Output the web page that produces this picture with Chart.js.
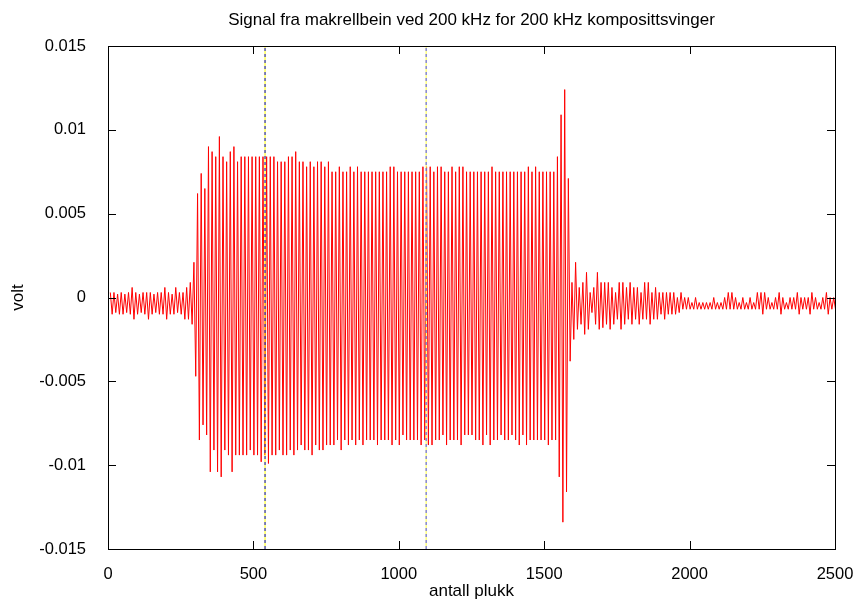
<!DOCTYPE html>
<html>
<head>
<meta charset="utf-8">
<script src="https://cdn.jsdelivr.net/npm/chart.js@4.4.1/dist/chart.umd.min.js"></script>
<style>
  html, body { margin: 0; padding: 0; background: #fff; }
  #plot { display: block; }
</style>
</head>
<body>
<canvas id="plot" width="856" height="600"></canvas>
<script>
// Signal fra makrellbein - one peak and one trough per cycle
const samplesPerCycle = 12.5;
const firstPeakAt = 8;

const peaks = [
    // 0-22 noise before the burst
    0.0003, 0.0003, 0.0002, 0.0003, 0.0002, 0.0003, 0.0006, 0.0003, 0.0002, 0.0003,
    0.0003, 0.0003, 0.0002, 0.0003, 0.0003, 0.0006, 0.0003, 0.0002, 0.0006, 0.0003,
    0.0003, 0.0006, 0.0009,
    // 23-35 onset
    0.0021, 0.0062, 0.0074, 0.0065, 0.0090, 0.0087, 0.0084, 0.0096, 0.0084, 0.0081,
    0.0087, 0.0090, 0.0081,
    // 36-122 steady part
    0.0084, 0.0084, 0.0084, 0.0084, 0.0084, 0.0084, 0.0084, 0.0084, 0.0084, 0.0084,
    0.0081, 0.0081, 0.0081, 0.0084, 0.0084, 0.0087, 0.0081, 0.0081, 0.0078, 0.0081,
    0.0078, 0.0081, 0.0081, 0.0078, 0.0081, 0.0075, 0.0075, 0.0078, 0.0075, 0.0075,
    0.0078, 0.0075, 0.0078, 0.0075, 0.0075, 0.0075, 0.0075, 0.0075, 0.0075, 0.0075,
    0.0075, 0.0078, 0.0078, 0.0075, 0.0075, 0.0075, 0.0075, 0.0075, 0.0075, 0.0075,
    0.0078, 0.0078, 0.0078, 0.0075, 0.0078, 0.0078, 0.0075, 0.0075, 0.0078, 0.0075,
    0.0078, 0.0078, 0.0075, 0.0075, 0.0075, 0.0075, 0.0075, 0.0075, 0.0075, 0.0078,
    0.0075, 0.0075, 0.0075, 0.0075, 0.0075, 0.0075, 0.0075, 0.0075, 0.0075, 0.0078,
    0.0075, 0.0078, 0.0075, 0.0075, 0.0075, 0.0075, 0.0075,
    // 123-126 end spike
    0.0084, 0.0109, 0.0124, 0.0071,
    // 127-158 ringing
    0.0009, 0.0021, 0.0006, 0.0009, 0.0015, 0.0003, 0.0006, 0.0015, 0.0009, 0.0009,
    0.0009, 0.0006, 0.0003, 0.0009, 0.0009, 0.0006, 0.0009, 0.0006, 0.0006, 0.0003,
    0.0009, 0.0009, 0.0003, 0.0006, 0.0003, 0.0003, 0.0003, 0.0003, 0.0003, 0.0000,
    0.0003, 0.0000,
    // 159-199 noise after
    0.0000, -0.0003, 0.0000, -0.0003, -0.0003, -0.0003, -0.0003, 0.0000, -0.0003, -0.0003,
    0.0000, 0.0003, 0.0003, 0.0000, -0.0003, 0.0000, -0.0003, 0.0000, -0.0003, 0.0003,
    0.0003, 0.0003, 0.0000, -0.0003, 0.0000, 0.0003, 0.0000, -0.0003, 0.0000, 0.0000,
    0.0003, 0.0000, 0.0000, 0.0000, 0.0003, 0.0000, -0.0003, 0.0000, 0.0003, 0.0000,
    0.0000
];

const troughs = [
    -0.0010, -0.0009, -0.0010, -0.0010, -0.0009, -0.0010, -0.0013, -0.0010, -0.0009, -0.0010,
    -0.0013, -0.0010, -0.0009, -0.0010, -0.0010, -0.0013, -0.0010, -0.0010, -0.0009, -0.0010,
    -0.0013, -0.0013, -0.0016,
    -0.0047, -0.0085, -0.0076, -0.0082, -0.0104, -0.0091, -0.0104, -0.0107, -0.0091, -0.0094,
    -0.0104, -0.0094, -0.0094,
    -0.0094, -0.0094, -0.0091, -0.0094, -0.0094, -0.0098, -0.0094, -0.0099, -0.0094, -0.0094,
    -0.0091, -0.0094, -0.0094, -0.0091, -0.0094, -0.0091, -0.0088, -0.0091, -0.0091, -0.0094,
    -0.0088, -0.0091, -0.0091, -0.0088, -0.0088, -0.0088, -0.0085, -0.0091, -0.0085, -0.0088,
    -0.0085, -0.0088, -0.0085, -0.0088, -0.0085, -0.0085, -0.0085, -0.0088, -0.0085, -0.0085,
    -0.0085, -0.0088, -0.0085, -0.0088, -0.0082, -0.0085, -0.0085, -0.0085, -0.0085, -0.0088,
    -0.0085, -0.0088, -0.0088, -0.0085, -0.0085, -0.0082, -0.0088, -0.0085, -0.0085, -0.0085,
    -0.0088, -0.0082, -0.0082, -0.0082, -0.0085, -0.0085, -0.0088, -0.0082, -0.0088, -0.0085,
    -0.0085, -0.0082, -0.0085, -0.0085, -0.0082, -0.0085, -0.0088, -0.0082, -0.0088, -0.0085,
    -0.0085, -0.0085, -0.0085, -0.0085, -0.0088, -0.0085, -0.0085,
    -0.0107, -0.0134, -0.0116, -0.0038,
    -0.0025, -0.0019, -0.0016, -0.0022, -0.0019, -0.0009, -0.0016, -0.0019, -0.0018, -0.0016,
    -0.0019, -0.0016, -0.0013, -0.0019, -0.0016, -0.0013, -0.0016, -0.0013, -0.0016, -0.0013,
    -0.0013, -0.0016, -0.0013, -0.0013, -0.0010, -0.0013, -0.0010, -0.0010, -0.0010, -0.0009,
    -0.0007, -0.0007,
    -0.0007, -0.0007, -0.0007, -0.0007, -0.0007, -0.0007, -0.0007, -0.0007, -0.0007, -0.0007,
    -0.0007, -0.0007, -0.0007, -0.0007, -0.0007, -0.0007, -0.0007, -0.0007, -0.0007, -0.0007,
    -0.0010, -0.0007, -0.0007, -0.0007, -0.0007, -0.0010, -0.0007, -0.0007, -0.0007, -0.0007,
    -0.0010, -0.0007, -0.0007, -0.0010, -0.0007, -0.0007, -0.0007, -0.0007, -0.0010, -0.0007,
    -0.0007
];

// the two dashed markers (sample number)
const markerA = 540;
const markerB = 1094;

const xTicks = [0, 500, 1000, 1500, 2000, 2500];
const yTicks = [-0.015, -0.01, -0.005, 0, 0.005, 0.01, 0.015];

const FONT = '"Liberation Sans", Arial, Helvetica, sans-serif';

document.addEventListener('DOMContentLoaded', function() {
    drawChart();
});

function buildSignal() {
    const pts = [];
    peaks.forEach((p, k) => {
        const x0 = firstPeakAt + k * samplesPerCycle;
        pts.push({ x: x0, y: p });
        pts.push({ x: x0 + samplesPerCycle / 2, y: troughs[k] });
    });
    return pts;
}

function vline(x) {
    return [{ x: x, y: yTicks[0] }, { x: x, y: yTicks[yTicks.length - 1] }];
}

// gnuplot style frame with inward ticks on all four sides
const frame = {
    id: 'frame',
    afterDatasetsDraw(chart) {
        const ctx = chart.ctx;
        const a = chart.chartArea;
        const xs = chart.scales.x, ys = chart.scales.y;
        const tl = 8;
        ctx.save();
        ctx.strokeStyle = '#000';
        ctx.lineWidth = 1;
        ctx.beginPath();
        xTicks.forEach(v => {
            const px = Math.round(xs.getPixelForValue(v)) + 0.5;
            ctx.moveTo(px, a.bottom); ctx.lineTo(px, a.bottom - tl);
            ctx.moveTo(px, a.top); ctx.lineTo(px, a.top + tl);
        });
        yTicks.forEach(v => {
            const py = Math.round(ys.getPixelForValue(v)) + 0.5;
            ctx.moveTo(a.left, py); ctx.lineTo(a.left + tl, py);
            ctx.moveTo(a.right, py); ctx.lineTo(a.right - tl, py);
        });
        ctx.stroke();
        ctx.strokeRect(Math.round(a.left) + 0.5, Math.round(a.top) + 0.5,
            Math.round(a.right - a.left), Math.round(a.bottom - a.top));
        ctx.restore();
    }
};

function drawChart() {
    const ctx = document.getElementById('plot').getContext('2d');
    new Chart(ctx, {
        type: 'line',
        data: {
            datasets: [
                {
                    data: vline(markerA), borderColor: '#0000e0', borderWidth: 1,
                    borderDash: [3, 3], pointRadius: 0, order: 0
                },
                {
                    data: vline(markerA), borderColor: '#ffff00', borderWidth: 1,
                    pointRadius: 0, order: 1
                },
                {
                    data: vline(markerB), borderColor: '#4c4cff', borderWidth: 1,
                    borderDash: [3, 3], pointRadius: 0, order: 0
                },
                {
                    data: vline(markerB), borderColor: '#ffff40', borderWidth: 1,
                    pointRadius: 0, order: 1
                },
                {
                    label: 'signal',
                    data: buildSignal(),
                    borderColor: '#ff0000',
                    borderWidth: 1,
                    pointRadius: 0,
                    tension: 0,
                    order: 2
                }
            ]
        },
        options: {
            responsive: false,
            animation: false,
            devicePixelRatio: 1,
            events: [],
            layout: { padding: { left: 0, right: 21, top: 0, bottom: 0 } },
            plugins: {
                legend: { display: false },
                tooltip: { enabled: false },
                title: {
                    display: true,
                    fullSize: false,
                    text: 'Signal fra makrellbein ved 200 kHz for 200 kHz komposittsvinger',
                    color: '#000',
                    font: { family: FONT, size: 17, weight: 'normal', lineHeight: 1 },
                    padding: { top: 11.5, bottom: 17.5 }
                }
            },
            scales: {
                x: {
                    type: 'linear',
                    min: 0,
                    max: 2500,
                    grid: { display: false },
                    border: { display: false },
                    afterBuildTicks: s => { s.ticks = xTicks.map(v => ({ value: v })); },
                    afterFit: s => {
                        s.height = 51;
                        s.paddingLeft = 0;
                        s.paddingRight = 0;
                    },
                    ticks: {
                        color: '#000',
                        padding: 8,
                        maxRotation: 0,
                        font: { family: FONT, size: 16.5 },
                        callback: v => String(v)
                    },
                    title: {
                        display: true,
                        text: 'antall plukk',
                        color: '#000',
                        font: { family: FONT, size: 17, lineHeight: 1 },
                        padding: 0
                    }
                },
                y: {
                    type: 'linear',
                    min: -0.015,
                    max: 0.015,
                    grid: { display: false },
                    border: { display: false },
                    afterBuildTicks: s => { s.ticks = yTicks.map(v => ({ value: v })); },
                    afterFit: s => {
                        s.width = 108;
                        s.paddingTop = 0;
                        s.paddingBottom = 0;
                    },
                    ticks: {
                        color: '#000',
                        padding: 14,
                        font: { family: FONT, size: 16.5 },
                        callback: v => String(v)
                    },
                    title: {
                        display: true,
                        text: 'volt',
                        color: '#000',
                        font: { family: FONT, size: 17, lineHeight: 1 },
                        padding: { top: 10, bottom: 0 }
                    }
                }
            }
        },
        plugins: [frame]
    });
}
</script>
</body>
</html>
